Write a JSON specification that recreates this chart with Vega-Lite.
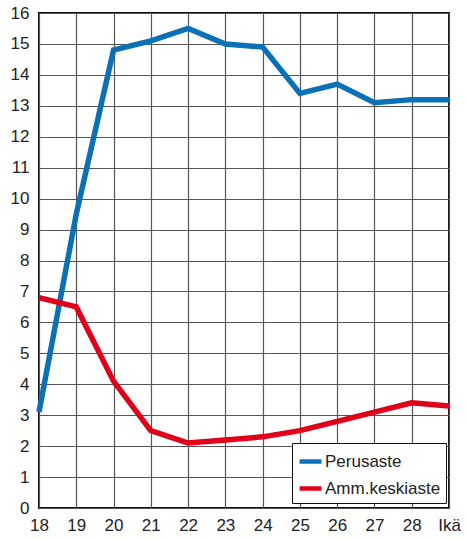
{
  "$schema": "https://vega.github.io/schema/vega-lite/v6.json",
  "width": 410,
  "height": 495,
  "autosize": {"type": "none"},
  "padding": {"left": 39, "top": 13, "right": 17, "bottom": 31},
  "background": "white",
  "config": {
    "view": {"stroke": "#111", "strokeWidth": 2},
    "font": "Liberation Sans",
    "axis": {
      "labelFont": "Liberation Sans",
      "labelFontSize": 17,
      "labelColor": "#222",
      "ticks": false,
      "domain": false,
      "gridColor": "#555",
      "gridWidth": 1.2,
      "gridOpacity": 1,
      "title": null
    }
  },
  "data": {
    "values": [
      {"age": 18, "value": 3.1, "series": "Perusaste"},
      {"age": 19, "value": 9.5, "series": "Perusaste"},
      {"age": 20, "value": 14.8, "series": "Perusaste"},
      {"age": 21, "value": 15.1, "series": "Perusaste"},
      {"age": 22, "value": 15.5, "series": "Perusaste"},
      {"age": 23, "value": 15.0, "series": "Perusaste"},
      {"age": 24, "value": 14.9, "series": "Perusaste"},
      {"age": 25, "value": 13.4, "series": "Perusaste"},
      {"age": 26, "value": 13.7, "series": "Perusaste"},
      {"age": 27, "value": 13.1, "series": "Perusaste"},
      {"age": 28, "value": 13.2, "series": "Perusaste"},
      {"age": 29, "value": 13.2, "series": "Perusaste"},
      {"age": 18, "value": 6.8, "series": "Amm.keskiaste"},
      {"age": 19, "value": 6.5, "series": "Amm.keskiaste"},
      {"age": 20, "value": 4.1, "series": "Amm.keskiaste"},
      {"age": 21, "value": 2.5, "series": "Amm.keskiaste"},
      {"age": 22, "value": 2.1, "series": "Amm.keskiaste"},
      {"age": 23, "value": 2.2, "series": "Amm.keskiaste"},
      {"age": 24, "value": 2.3, "series": "Amm.keskiaste"},
      {"age": 25, "value": 2.5, "series": "Amm.keskiaste"},
      {"age": 26, "value": 2.8, "series": "Amm.keskiaste"},
      {"age": 27, "value": 3.1, "series": "Amm.keskiaste"},
      {"age": 28, "value": 3.4, "series": "Amm.keskiaste"},
      {"age": 29, "value": 3.3, "series": "Amm.keskiaste"}
    ]
  },
  "mark": {"type": "line", "strokeWidth": 5.5, "strokeJoin": "miter", "strokeCap": "butt", "clip": false},
  "encoding": {
    "x": {
      "field": "age", "type": "quantitative",
      "scale": {"domain": [18, 29], "nice": false, "zero": false},
      "axis": {"values": [18,19,20,21,22,23,24,25,26,27,28,29], "labelPadding": 9,
               "labelExpr": "datum.value == 29 ? 'Ikä' : datum.label", "labelFlush": false}
    },
    "y": {
      "field": "value", "type": "quantitative",
      "scale": {"domain": [0, 16], "nice": false},
      "axis": {"values": [0,1,2,3,4,5,6,7,8,9,10,11,12,13,14,15,16], "labelPadding": 10}
    },
    "color": {
      "field": "series", "type": "nominal",
      "scale": {"domain": ["Perusaste", "Amm.keskiaste"], "range": ["#0b71b6", "#e1001a"]},
      "legend": {
        "title": null,
        "orient": "none",
        "legendX": 253,
        "legendY": 430,
        "fillColor": "white",
        "strokeColor": "#111",
        "padding": 5,
        "labelFontSize": 17,
        "labelFont": "Liberation Sans",
        "labelColor": "#222",
        "symbolType": "stroke",
        "symbolStrokeWidth": 4.5,
        "symbolSize": 480,
        "rowPadding": 4,
        "labelOffset": 1
      }
    }
  }
}
